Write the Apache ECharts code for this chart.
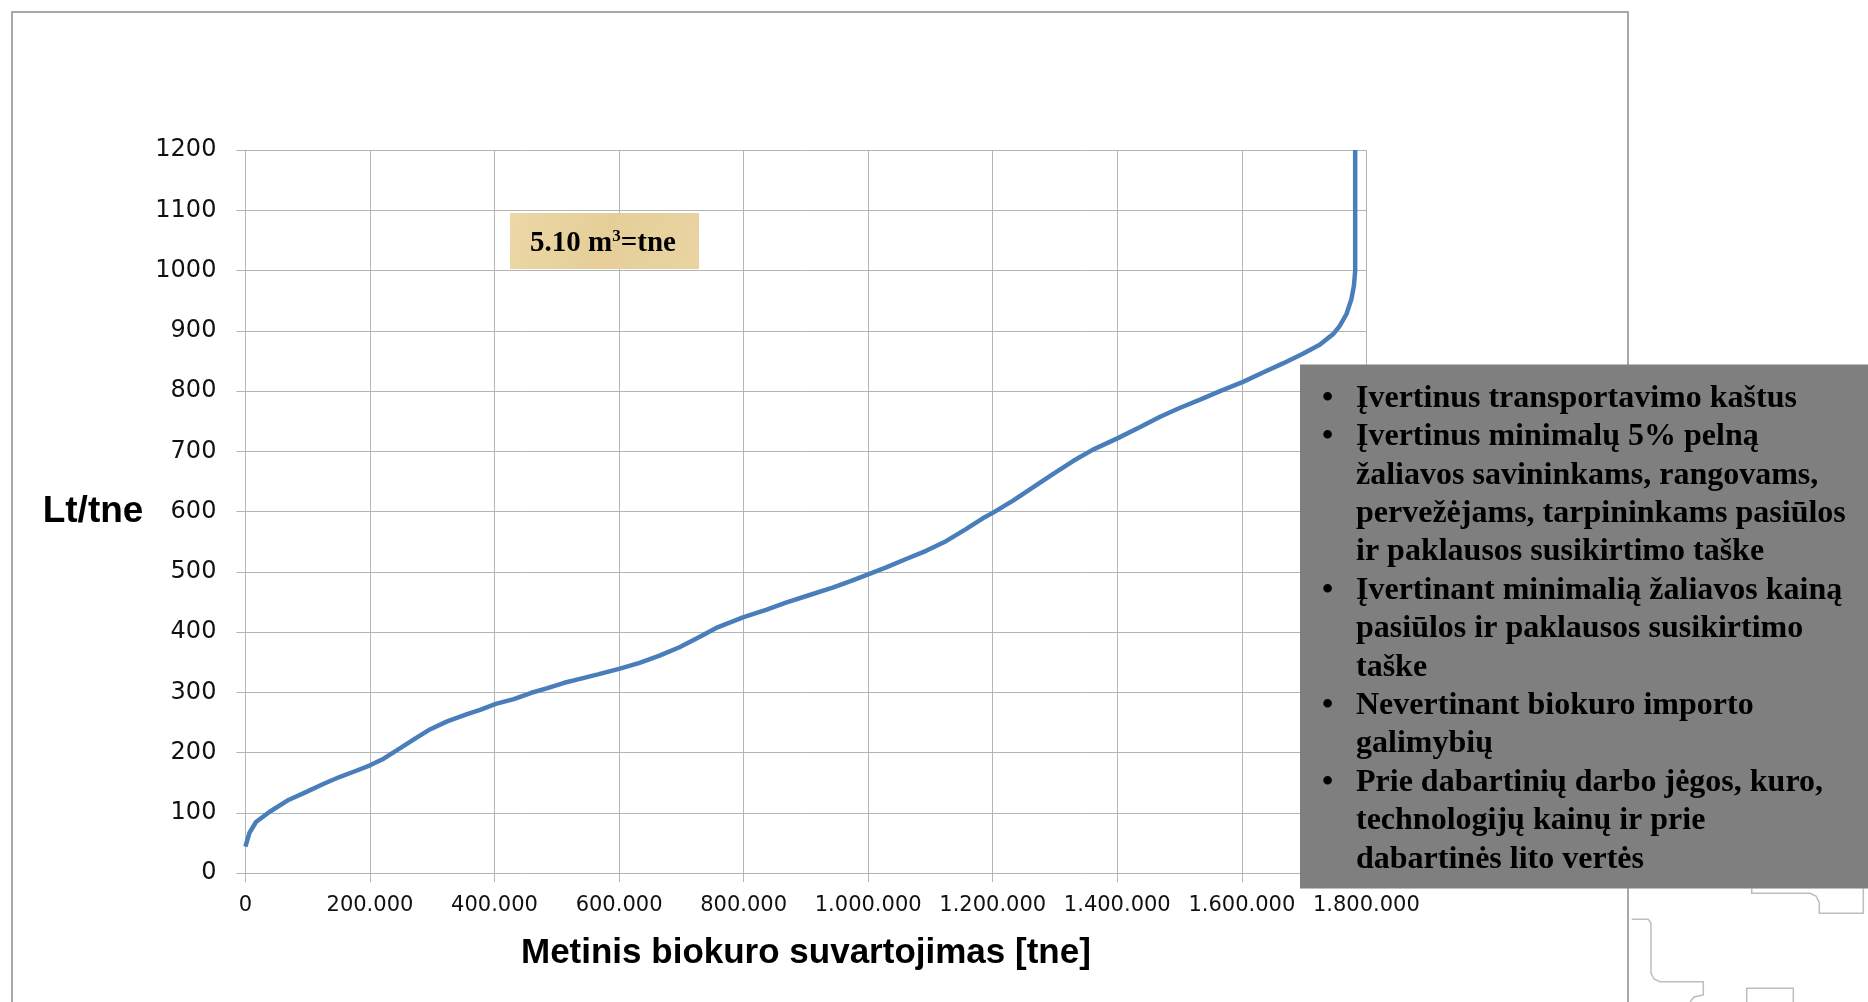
<!DOCTYPE html>
<html>
<head>
<meta charset="utf-8">
<script src="https://cdn.jsdelivr.net/npm/echarts@6/dist/echarts.min.js"></script>
<style>
html,body{margin:0;padding:0;background:#ffffff;}
#chart{width:1868px;height:1002px;}
</style>
</head>
<body>
<div id="chart"></div>
<script>
// Annual biofuel consumption [tne] (x) and price Lt/tne (y)
const consumption = [0, 6500, 17000, 39000, 70000, 98000, 125000, 152000, 178000, 200000,
  222000, 248000, 275000, 297000, 324000, 356000, 377000, 402000, 431000, 458000,
  485000, 512000, 539000, 566000, 600000, 633000, 665000, 697000, 729000, 756000,
  800000, 836000, 868000, 901000, 943000, 975000, 1000000, 1028000, 1060000, 1093000,
  1125000, 1157000, 1184000, 1200000, 1232000, 1264000, 1296000, 1329000, 1361000, 1401000,
  1436000, 1468000, 1500000, 1533000, 1565000, 1601000, 1634000, 1666000, 1698000, 1725000,
  1747000, 1757000, 1768000, 1776000, 1780000, 1782000, 1782000];
const price = [44, 67, 85, 102, 122, 135, 148, 160, 170, 179,
  190, 207, 225, 239, 252, 264, 271, 281, 289, 299,
  307, 316, 323, 330, 339, 349, 361, 375, 392, 407,
  425, 437, 449, 460, 474, 486, 496, 507, 521, 535,
  551, 571, 589, 598, 618, 640, 662, 684, 703, 722,
  740, 757, 772, 786, 800, 815, 831, 846, 862, 877,
  895, 908, 928, 953, 975, 1000, 1200];
const xTickLabels = ['0', '200.000', '400.000', '600.000', '800.000', '1.000.000', '1.200.000', '1.400.000', '1.600.000', '1.800.000'];
const yTickLabels = ['0', '100', '200', '300', '400', '500', '600', '700', '800', '900', '1000', '1100', '1200'];
const xTitle = 'Metinis biokuro suvartojimas [tne]';
const yTitle = 'Lt/tne';
const noteText = ['5.10 m', '3', '=tne'];
const bulletLines = [
  [true, 'Įvertinus transportavimo kaštus'],
  [true, 'Įvertinus minimalų 5% pelną'],
  [false, 'žaliavos savininkams, rangovams,'],
  [false, 'pervežėjams, tarpininkams pasiūlos'],
  [false, 'ir paklausos susikirtimo taške'],
  [true, 'Įvertinant minimalią žaliavos kainą'],
  [false, 'pasiūlos ir paklausos susikirtimo'],
  [false, 'taške'],
  [true, 'Nevertinant biokuro importo'],
  [false, 'galimybių'],
  [true, 'Prie dabartinių darbo jėgos, kuro,'],
  [false, 'technologijų kainų ir prie'],
  [false, 'dabartinės lito vertės']
];

const chart = echarts.init(document.getElementById('chart'), null, {renderer: 'canvas'});

const gridColor = '#B4B4B4';
const serifBold = 'bold 32px "Liberation Serif", "Times New Roman", serif';

const graphics = [];
// chart frame
graphics.push({
  type: 'rect', z: 0, silent: true,
  shape: {x: 12, y: 12, width: 1616, height: 1100},
  style: {fill: null, stroke: '#8C8C8C', lineWidth: 1.5}
});
// parchment note box
graphics.push({
  type: 'rect', z: 50, silent: true,
  shape: {x: 510, y: 213, width: 189, height: 56},
  style: {
    fill: new echarts.graphic.LinearGradient(0, 0, 1, 1, [
      {offset: 0, color: '#ECD8A6'}, {offset: 0.5, color: '#E5CE98'}, {offset: 1, color: '#E9D4A2'}
    ])
  }
});
graphics.push({
  type: 'text', z: 51, silent: true,
  style: {
    x: 603, y: 244, align: 'center', verticalAlign: 'middle',
    text: '{a|' + noteText[0] + '}{s|' + noteText[1] + '}{a|' + noteText[2] + '}',
    rich: {
      a: {font: 'bold 29px "Liberation Serif", "Times New Roman", serif', fill: '#000', lineHeight: 32},
      s: {font: 'bold 17px "Liberation Serif", "Times New Roman", serif', fill: '#000', verticalAlign: 'top', lineHeight: 32}
    }
  }
});
// grey information box
graphics.push({
  type: 'rect', z: 60, silent: true,
  shape: {x: 1300, y: 364.5, width: 568, height: 524},
  style: {fill: '#7F7F7F'}
});
bulletLines.forEach(function (ln, i) {
  const y = 398.5 + i * 38.4;
  if (ln[0]) {
    graphics.push({
      type: 'text', z: 61, silent: true,
      style: {x: 1322, y: y, text: '•', font: serifBold, fill: '#000', align: 'left', verticalAlign: 'middle'}
    });
  }
  graphics.push({
    type: 'text', z: 61, silent: true,
    style: {x: 1356, y: y, text: ln[1], font: serifBold, fill: '#000', align: 'left', verticalAlign: 'middle'}
  });
});
// slide background decorations (bottom right)
const deco = [
  [[1751.7, 888.5], [1751.7, 893.3], [1810, 893.3], [1816, 896], [1819.3, 902.7], [1819.3, 913.3], [1863.3, 913.3], [1863.3, 888.5]],
  [[1631.7, 919.3], [1648.3, 919.3], [1651, 923.3], [1651, 973.3], [1654, 979], [1660, 981.7], [1703.3, 981.7], [1703.3, 995], [1694, 997], [1690, 1002]],
  [[1746.7, 1002], [1746.7, 988.3], [1793.3, 988.3], [1793.3, 1002]]
];
deco.forEach(function (pts) {
  graphics.push({
    type: 'polyline', z: 1, silent: true,
    shape: {points: pts},
    style: {stroke: '#BDBDBD', lineWidth: 1.5, fill: null}
  });
});

const option = {
  backgroundColor: '#ffffff',
  animation: false,
  grid: {left: 245.4, right: 501.6, top: 150.1, bottom: 128.8, containLabel: false},
  xAxis: {
    type: 'value', min: 0, max: 1800000, interval: 200000,
    name: xTitle, nameLocation: 'middle', nameGap: 63,
    nameTextStyle: {fontFamily: '"Liberation Sans", Arial, sans-serif', fontWeight: 'bold', fontSize: 35, color: '#000'},
    axisLine: {show: true, lineStyle: {color: gridColor, width: 1}},
    axisTick: {show: true, inside: false, length: 9, lineStyle: {color: gridColor}},
    axisLabel: {
      margin: 22, fontFamily: '"DejaVu Sans", Verdana, sans-serif', fontSize: 21, color: '#111',
      formatter: function (v) { return xTickLabels[Math.round(v / 200000)]; }
    },
    splitLine: {show: true, lineStyle: {color: gridColor, width: 1}}
  },
  yAxis: {
    type: 'value', min: 0, max: 1200, interval: 100,
    name: yTitle, nameLocation: 'middle', nameRotate: 0, nameGap: 102,
    nameTextStyle: {fontFamily: '"Liberation Sans", Arial, sans-serif', fontWeight: 'bold', fontSize: 37, color: '#000', padding: [20, 0, 0, 0]},
    axisLine: {show: true, lineStyle: {color: gridColor, width: 1}},
    axisTick: {show: true, inside: false, length: 9, lineStyle: {color: gridColor}},
    axisLabel: {
      margin: 29, fontFamily: '"DejaVu Sans", Verdana, sans-serif', fontSize: 24, color: '#111',
      formatter: function (v) { return yTickLabels[Math.round(v / 100)]; }
    },
    splitLine: {show: true, lineStyle: {color: gridColor, width: 1}}
  },
  series: [{
    type: 'line',
    data: consumption.map(function (x, i) { return [x, price[i]]; }),
    showSymbol: false,
    symbol: 'none',
    smooth: false,
    clip: true,
    z: 10,
    lineStyle: {color: '#4A7EBB', width: 4.5}
  }],
  graphic: graphics
};
chart.setOption(option);
</script>
</body>
</html>
